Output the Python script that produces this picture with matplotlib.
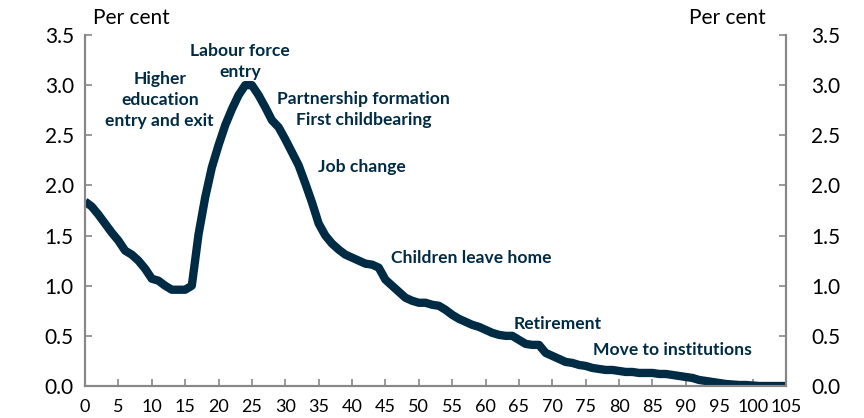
import matplotlib
matplotlib.use("Agg")
import matplotlib.pyplot as plt
import numpy as np

ages = list(range(0, 106))
rate = [1.84, 1.79, 1.71, 1.62, 1.53, 1.45, 1.35, 1.31, 1.25, 1.17,
        1.07, 1.05, 1.00, 0.96, 0.96, 0.96, 1.00, 1.51, 1.88, 2.18,
        2.40, 2.60, 2.76, 2.90, 3.00, 3.00, 2.90, 2.78, 2.65, 2.58,
        2.46, 2.33, 2.20, 2.02, 1.83, 1.62, 1.50, 1.42, 1.36, 1.31,
        1.28, 1.25, 1.22, 1.21, 1.18, 1.06, 1.00, 0.94, 0.88, 0.85,
        0.83, 0.83, 0.81, 0.80, 0.76, 0.71, 0.67, 0.64, 0.61, 0.59,
        0.56, 0.53, 0.51, 0.50, 0.50, 0.46, 0.42, 0.41, 0.41, 0.33,
        0.30, 0.27, 0.24, 0.23, 0.21, 0.20, 0.18, 0.17, 0.16, 0.16,
        0.15, 0.14, 0.14, 0.13, 0.13, 0.13, 0.12, 0.12, 0.11, 0.10,
        0.09, 0.08, 0.06, 0.05, 0.04, 0.03, 0.02, 0.015, 0.01, 0.01,
        0.005, 0.0, 0.0, 0.0, 0.0, 0.0]

labels = ["Higher\neducation\nentry and exit", "Labour force\nentry",
          "Partnership formation\nFirst childbearing", "Job change",
          "Children leave home", "Retirement", "Move to institutions"]
label_x = [11.2, 23.2, 41.7, 41.5, 57.9, 70.8, 88.0]
label_y = [2.85, 3.24, 2.76, 2.18, 1.28, 0.62, 0.355]

xticks = list(range(0, 106, 5))
yticks = [0.0, 0.5, 1.0, 1.5, 2.0, 2.5, 3.0, 3.5]

navy = "#002B45"
grey = "#878787"
plt.rcParams['font.family'] = ['Lato', 'DejaVu Sans']

fig = plt.figure(figsize=(8.64, 4.18), dpi=100)
ax = fig.add_axes([85/864, 32/418, (786-85)/864, (386-35)/418])
ax2 = ax.twinx()
ax.plot(ages, rate, color=navy, lw=6, solid_capstyle='butt', solid_joinstyle='round')
ax.set_xlim(0, 105)
for a in (ax, ax2):
    a.set_ylim(0, 3.5)
    a.set_yticks(yticks)
    a.set_yticklabels([f"{v:.1f}" for v in yticks])
    for s in ['left', 'right', 'bottom']:
        a.spines[s].set_color(grey)
        a.spines[s].set_linewidth(1.5)
    a.spines['top'].set_visible(False)
ax.set_xticks(xticks)
ax.tick_params(axis='both', direction='in', length=5, width=1.2, color=grey,
               labelsize=15, labelcolor='black')
ax.tick_params(axis='x', labelsize=13, pad=9)
ax.tick_params(axis='y', pad=8)
ax2.tick_params(axis='y', direction='in', length=5, width=1.2, color=grey,
                labelsize=15, labelcolor='black', pad=18)

for t, x, y in zip(labels, label_x, label_y):
    ax.text(x, y, t, ha='center', va='center', color=navy, fontsize=12.6,
            fontweight='bold', linespacing=1.38)

fig.text(93/864, 1 - 18/418, "Per cent", ha='left', va='center', fontsize=15)
fig.text(766/864, 1 - 18/418, "Per cent", ha='right', va='center', fontsize=15)

fig.savefig("out.png", dpi=100)
